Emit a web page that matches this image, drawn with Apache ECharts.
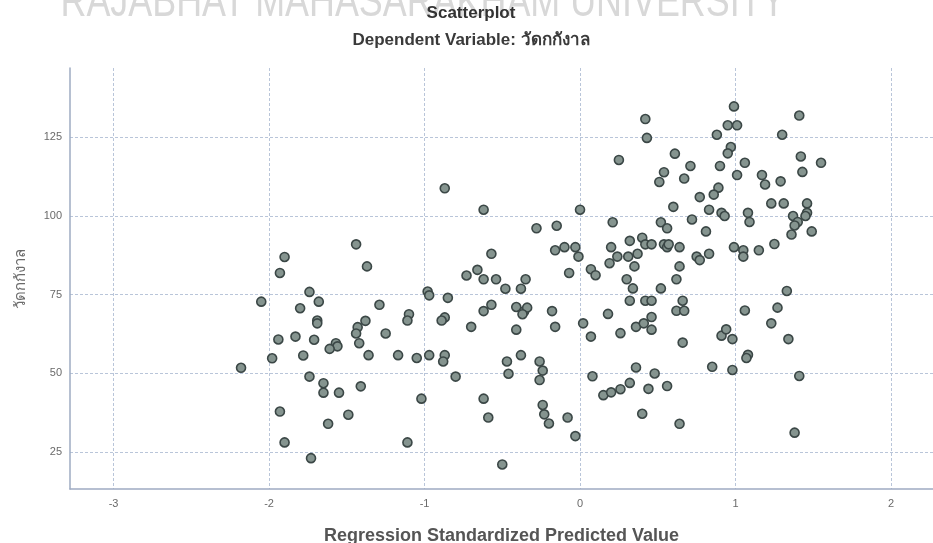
<!DOCTYPE html>
<html>
<head>
<meta charset="utf-8">
<script src="https://cdn.jsdelivr.net/npm/echarts@6/dist/echarts.min.js"></script>
<style>
  html, body { margin: 0; padding: 0; background: #ffffff; }
  #chart { width: 933px; height: 543px; }
</style>
</head>
<body>
<div id="chart"></div>
<script>
// Regression Standardized Predicted Value (x) against the dependent variable (y)
const predicted = [
  -0.87, -0.62, -0.28, -0.15, -0.16, -0.10, -0.07, -1.44, -1.90, -1.93, -1.37, -0.57, -0.73, -0.66, -0.62, -0.54, -0.35,
  0.99, 1.41, 0.42, 0.43, 0.95, 1.01, 0.88, 1.30, 0.61, 0.25, 0.97, 0.95, 0.71, 0.90, 1.06, 1.42, 1.55, 1.43, 0.54, 0.51,
  0.67, 1.01, 1.17, 1.19, 1.29, 0.89, 0.86, 0.77, 0.60, 0.83, 0.91, 0.93, 1.08, 1.09, 1.23, 1.31, 1.46, 1.46, 1.45, 1.37,
  1.40, 1.38, 1.49, 1.36, 1.25, 0.00, 0.21, 0.52, 0.56, 0.72, 0.81, -0.03, -0.01, 0.07, 0.10, 0.20, 0.32, 0.40, 0.42, 0.46,
  0.54, 0.56, 0.57, 0.64, 0.24, 0.31, 0.37, 0.19, 0.35, 0.75, 0.77, 0.83, 0.99, 1.05, 1.05, 1.15, 0.64, 0.30, 0.62,
  -0.48, -0.38, -1.74, -0.98, -0.97, -0.85, -2.05, -1.68, -1.80, -1.29, -0.62, -0.57, -0.41, -0.36, -0.34, -0.37, -0.18,
  -0.16, -0.41, -1.69, -1.69, -1.38, -1.43, -1.44, -1.42, -1.25, -1.10, -1.11, -0.87, -0.89, -0.70, -1.94, -1.83, -1.71,
  -1.57, -1.56, -1.61, -1.98, -1.78, -1.36, -1.17, -1.05, -0.97, -0.87, -0.88, -2.18, -1.74, -1.65, -1.65, -1.55, -1.41,
  -1.93, -1.49, -1.62, -1.90, -1.73, -1.11, -0.80, -1.02, -0.62, -0.59, -0.50, -0.47, -0.46, -0.38, -0.26, -0.24, -0.26,
  -0.24, -0.23, -0.20, -0.08,
  0.34, 0.52, 1.33, 0.32, 0.42, 0.46, 0.66, 0.62, 0.67, 1.06, 1.27, 0.18, 0.02, 0.07, 0.26, 0.36, 0.41, 0.46, 0.46, 0.66,
  1.23, 1.34, 0.91, 0.94, 0.98, 1.08, 1.07, 0.85, 0.98, 1.41, 0.36, 0.48, 0.08, 0.15, 0.20, 0.26, 0.32, 0.44, 0.56, 0.40,
  0.64, 1.38, -0.03
];
const observed = [
  108.8, 102.0, 96.1, 96.9, 89.1, 90.1, 81.9, 91.0, 87.0, 81.9, 84.0, 88.0, 81.1, 82.9, 79.9, 79.9, 79.9,
  134.8, 131.9, 130.8, 124.8, 128.8, 128.8, 125.8, 125.8, 119.8, 117.8, 121.9, 119.9, 115.9, 115.9, 116.9, 118.9, 116.9, 114.0, 113.9, 110.8,
  111.9, 113.0, 113.0, 110.0, 111.0, 109.0, 106.8, 106.0, 102.9, 102.0, 101.0, 100.0, 101.0, 98.1, 104.0, 104.0, 104.0, 101.0, 100.0, 100.0,
  98.1, 97.0, 95.1, 94.1, 91.1, 102.0, 98.0, 98.0, 96.1, 98.9, 95.1, 90.1, 87.1, 83.1, 81.2, 90.1, 92.1, 93.1, 91.0, 91.0,
  91.0, 90.1, 91.0, 90.1, 87.1, 87.1, 88.0, 85.0, 84.0, 87.1, 86.0, 88.0, 90.1, 89.1, 87.1, 89.1, 84.0, 79.9, 79.9,
  76.9, 76.9, 75.9, 76.0, 74.8, 74.0, 72.8, 72.8, 70.7, 71.8, 69.8, 71.8, 71.1, 69.7, 70.9, 68.8, 69.8,
  64.8, 63.9, 66.8, 65.9, 66.7, 64.7, 62.7, 59.6, 62.7, 68.8, 66.8, 67.8, 66.8, 64.8, 60.8, 61.7, 60.7,
  59.6, 58.6, 57.8, 54.8, 55.7, 55.8, 55.8, 54.9, 55.8, 55.8, 53.8, 51.8, 49.0, 46.9, 43.9, 43.9, 45.9,
  37.9, 36.9, 34.0, 28.1, 23.1, 28.1, 49.0, 42.0, 42.0, 36.0, 21.1, 53.8, 49.9, 55.8, 53.8, 50.9, 47.9,
  40.0, 37.0, 34.1, 36.0,
  77.0, 77.0, 76.2, 73.1, 73.1, 73.1, 73.1, 69.9, 69.9, 70.0, 70.9, 68.9, 65.9, 61.7, 62.8, 64.8, 65.9, 67.9, 63.9, 59.8,
  65.9, 60.9, 62.0, 64.0, 60.9, 55.9, 54.9, 52.1, 51.1, 49.2, 51.9, 50.0, 49.1, 43.1, 44.0, 45.0, 47.0, 45.1, 46.0, 37.2,
  34.0, 31.2, 30.1
];

const xTickValues = [-3, -2, -1, 0, 1, 2];
const yTickValues = [25, 50, 75, 100, 125];

const chartTitle = 'Scatterplot';
const chartSubtitle = 'Dependent Variable: วัดกกังาล';
const xAxisTitle = 'Regression Standardized Predicted Value';
const yAxisTitle = 'วัดกกังาล';
const watermark = 'RAJABHAT MAHASARAKHAM UNIVERSITY';

const points = predicted.map((v, i) => [v, observed[i]]);

const gridColor = '#b9c5d9';
const axisColor = '#9eabc2';
const labelColor = '#6a6a6a';

const chart = echarts.init(document.getElementById('chart'), null, { renderer: 'canvas' });

chart.setOption({
  backgroundColor: '#ffffff',
  animation: false,
  textStyle: { fontFamily: 'Arial, "Liberation Sans", "Noto Sans", sans-serif' },
  graphic: [
    {
      // faint banner lettering along the top edge, mostly outside the page
      type: 'text', x: 423, y: -20, scaleX: 0.78, z: 0, silent: true,
      style: {
        text: watermark,
        textAlign: 'center', textVerticalAlign: 'top',
        fontSize: 46,
        fontFamily: '"Liberation Sans", Arial, sans-serif',
        fill: '#d8d8d8'
      }
    },
    {
      type: 'text', x: 471, y: 13, z: 10,
      style: {
        text: chartTitle, textAlign: 'center', textVerticalAlign: 'middle',
        fontSize: 17, fontWeight: 'bold', fill: '#333333',
        fontFamily: '"Liberation Sans", Arial, sans-serif'
      }
    },
    {
      type: 'text', x: 471, y: 40, z: 10,
      style: {
        text: chartSubtitle, textAlign: 'center', textVerticalAlign: 'middle',
        fontSize: 17, fontWeight: 'bold', fill: '#3a3a3a',
        fontFamily: '"Liberation Sans", Arial, "Noto Sans", sans-serif'
      }
    }
  ],
  grid: { left: 70, right: 0, top: 68, bottom: 54, containLabel: false, outerBoundsMode: 'none' },
  xAxis: {
    type: 'value',
    min: -3.28,
    max: 2.27,
    minInterval: 1,
    maxInterval: 1,
    name: xAxisTitle,
    nameLocation: 'middle',
    nameGap: 38,
    nameTextStyle: { fontSize: 18, fontWeight: 'bold', color: '#555555' },
    axisLine: { show: true, onZero: false, lineStyle: { color: axisColor, width: 1.5 } },
    axisTick: { show: false },
    axisLabel: {
      color: labelColor, fontSize: 11, margin: 9,
      showMinLabel: false, showMaxLabel: false,
      formatter: v => (xTickValues.includes(Math.round(v * 1000) / 1000) ? String(v) : '')
    },
    splitLine: {
      show: true, showMinLine: false, showMaxLine: false,
      lineStyle: { color: gridColor, type: [3, 2], width: 1 }
    }
  },
  yAxis: {
    type: 'value',
    min: 13.3,
    max: 147,
    minInterval: 25,
    maxInterval: 25,
    name: yAxisTitle,
    nameLocation: 'middle',
    nameGap: 42,
    nameRotate: 90,
    nameTextStyle: { fontSize: 15, color: '#6a6a6a' },
    axisLine: { show: true, onZero: false, lineStyle: { color: axisColor, width: 1.5 } },
    axisTick: { show: false },
    axisLabel: {
      color: labelColor, fontSize: 11, margin: 8,
      showMinLabel: false, showMaxLabel: false,
      formatter: v => (yTickValues.includes(Math.round(v * 1000) / 1000) ? String(v) : '')
    },
    splitLine: {
      show: true, showMinLine: false, showMaxLine: false,
      lineStyle: { color: gridColor, type: [3, 2], width: 1 }
    }
  },
  series: [{
    type: 'scatter',
    data: points,
    symbol: 'circle',
    symbolSize: 9,
    itemStyle: {
      color: '#85948f',
      borderColor: '#3b4746',
      borderWidth: 1.6,
      opacity: 1
    },
    z: 5
  }]
});
</script>
</body>
</html>
